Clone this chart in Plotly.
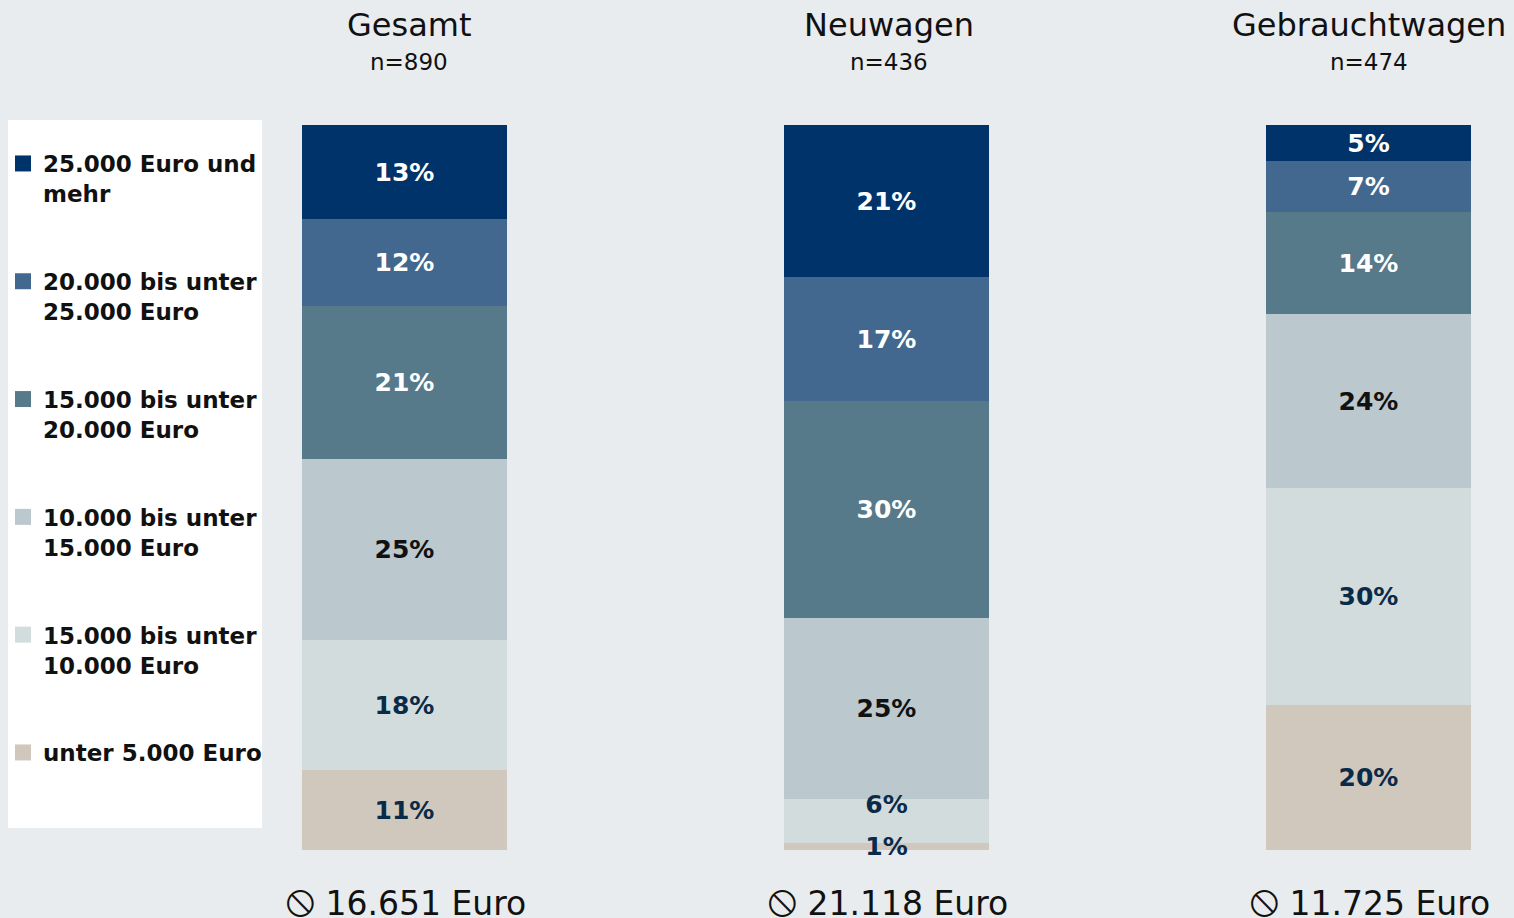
import plotly.graph_objects as go

# ---- data ----
groups = ["Gesamt", "Neuwagen", "Gebrauchtwagen"]
sample_sizes = ["n=890", "n=436", "n=474"]
average_values = ["16.651 Euro", "21.118 Euro", "11.725 Euro"]

segment_names = [
    "unter 5.000 Euro",
    "15.000 bis unter<br>10.000 Euro",
    "10.000 bis unter<br>15.000 Euro",
    "15.000 bis unter<br>20.000 Euro",
    "20.000 bis unter<br>25.000 Euro",
    "25.000 Euro und<br>mehr",
]
values_unter5 = [11, 1, 20]
values_5_10 = [18, 6, 30]
values_10_15 = [25, 25, 24]
values_15_20 = [21, 30, 14]
values_20_25 = [12, 17, 7]
values_25plus = [13, 21, 5]
series_values = [values_unter5, values_5_10, values_10_15, values_15_20, values_20_25, values_25plus]

colors = ["#d0c8bc", "#d3dcdc", "#bbc8cd", "#577a8a", "#426890", "#00336a"]
text_colors = ["#0a2a4a", "#0a2a4a", "#111111", "#ffffff", "#ffffff", "#ffffff"]

BG = "#e8ecee"
FONT = "DejaVu Sans"

# stacking bases computed from the data (bottom segment first)
bases = []
running = [0, 0, 0]
for vals in series_values:
    bases.append(list(running))
    running = [r + v for r, v in zip(running, vals)]


def label(v, below):
    # a segment sitting on a very thin one gets its label lifted a little
    return f"{v}%<br> " if below is not None and below < 3 else f"{v}%"


fig = go.Figure()
# draw top segment first so that lower segments' labels are painted on top
for i in reversed(range(len(series_values))):
    vals = series_values[i]
    below_vals = series_values[i - 1] if i > 0 else [None] * len(vals)
    fig.add_trace(go.Bar(
        x=groups, y=vals, base=bases[i], name=segment_names[i],
        marker=dict(color=colors[i], line=dict(width=0)),
        width=0.4253,
        text=[label(v, b) for v, b in zip(vals, below_vals)],
        textposition="inside",
        insidetextanchor="middle",
        textangle=0,
        cliponaxis=False,
        textfont=dict(family=FONT, size=25, color=text_colors[i], weight="bold"),
        hoverinfo="skip",
        showlegend=False,
    ))

# legend entries (square markers)
for i in reversed(range(len(series_values))):
    fig.add_trace(go.Scatter(
        x=[None], y=[None], mode="markers", name=segment_names[i],
        marker=dict(symbol="square", size=16, color=colors[i]),
        legendgroup=segment_names[i], showlegend=True, hoverinfo="skip",
    ))

# pixel helper for paper coordinates (plot area 125..850 px tall)
def py(p):
    return (850 - p) / 725.0

def px(p):
    return p / 1514.0

annotations = []
for g, n, a, xs in zip(groups, sample_sizes, average_values, [5, 3, 1]):
    annotations.append(dict(x=g, xref="x", y=py(25), yref="paper", text=g, showarrow=False,
                            xshift=xs, font=dict(family=FONT, size=32, color="#111111"),
                            xanchor="center", yanchor="middle"))
    annotations.append(dict(x=g, xref="x", y=py(62), yref="paper", text=n, showarrow=False,
                            xshift=xs, font=dict(family=FONT, size=23, color="#111111"),
                            xanchor="center", yanchor="middle"))
    annotations.append(dict(x=g, xref="x", y=py(900), yref="paper",
                            text="<span style='font-size:44px'>⦸</span> " + a, showarrow=False,
                            xshift=2, font=dict(family=FONT, size=33, color="#111111"),
                            xanchor="center", yanchor="middle"))

fig.update_layout(
    width=1514, height=918,
    margin=dict(l=0, r=0, t=125, b=68),
    paper_bgcolor=BG, plot_bgcolor=BG,
    barmode="overlay",
    bargap=0,
    xaxis=dict(type="category", range=[-0.8392, 2.3019], visible=False, fixedrange=True),
    yaxis=dict(range=[0, 100], visible=False, fixedrange=True),
    uniformtext=dict(minsize=25, mode="show"),
    showlegend=True,
    legend=dict(
        x=px(3), xanchor="left", y=py(142), yanchor="top",
        bgcolor="rgba(0,0,0,0)", borderwidth=0,
        traceorder="grouped",
        tracegroupgap=55,
        valign="top",
        font=dict(family=FONT, size=23, color="#111111", weight="bold"),
        itemclick=False, itemdoubleclick=False,
    ),
    shapes=[dict(type="rect", xref="paper", yref="paper",
                 x0=px(8), x1=px(262), y0=py(828), y1=py(120),
                 fillcolor="#ffffff", line=dict(width=0), layer="below")],
    annotations=annotations,
)

post = ("document.body.style.margin='0';document.body.style.padding='0';"
        "document.body.style.background='%s';document.documentElement.style.overflow='hidden';" % BG)
fig.write_html("out.html", post_script=post, config={"displayModeBar": False})
